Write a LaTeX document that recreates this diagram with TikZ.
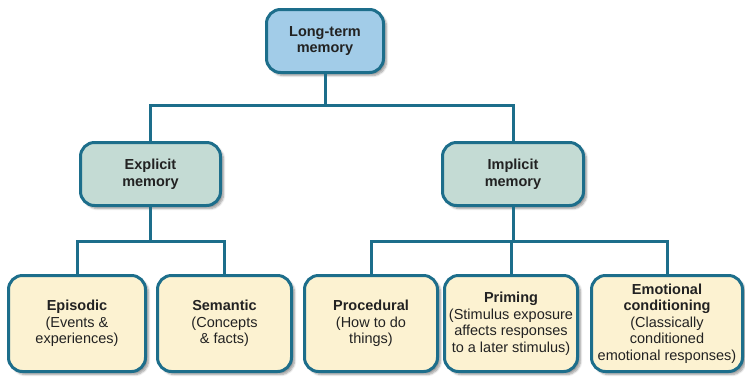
\documentclass[tikz,border=0pt]{standalone}
\usepackage{fontspec}
\setmainfont{Liberation Sans}
\usetikzlibrary{shadows.blur}
\definecolor{edge}{HTML}{1D6E8B}
\definecolor{topfill}{HTML}{A2CCE8}
\definecolor{midfill}{HTML}{C4DBD4}
\definecolor{botfill}{HTML}{FCF2D1}
\definecolor{txt}{HTML}{222222}
\tikzset{
  memnode/.style={draw=edge, line width=3pt, rounded corners=14pt, align=center,
    text=txt, font=\fontsize{14.5}{16.5}\selectfont, inner sep=1pt,
    blur shadow={shadow xshift=3pt, shadow yshift=-3pt, shadow opacity=40, shadow blur steps=6}},
  topbox/.style={memnode, fill=topfill},
  midbox/.style={memnode, fill=midfill, minimum width=140pt, minimum height=63pt},
  botbox/.style={memnode, fill=botfill, minimum height=96pt},
  link/.style={draw=edge, line width=3pt}
}
\begin{document}
\begin{tikzpicture}[x=1pt,y=-1pt]
\useasboundingbox (0,0) rectangle (745,384);
\coordinate (b1) at (325,105);
\coordinate (b2) at (150.5,241);
\coordinate (b3) at (513,241);
\node[topbox, minimum width=117pt, minimum height=63pt] (ltm) at (325,41) {\textbf{Long-term}\\\textbf{memory}};
\node[midbox] (exp) at (150.5,174) {\textbf{Explicit}\\\textbf{memory}};
\node[midbox, minimum width=141pt] (imp) at (513,174) {\textbf{Implicit}\\\textbf{memory}};
\node[botbox, minimum width=137pt] (epi) at (77,323.5) {\textbf{Episodic}\\(Events \&\\experiences)};
\node[botbox, minimum width=134pt] (sem) at (224.5,323.5) {\textbf{Semantic}\\(Concepts\\\& facts)};
\node[botbox, minimum width=133pt] (pro) at (371,323.5) {\textbf{Procedural}\\(How to do\\things)};
\node[botbox, minimum width=133pt] (pri) at (511,323.5) {\textbf{Priming}\\(Stimulus exposure\\affects responses\\to a later stimulus)};
\node[botbox, minimum width=151pt] (emo) at (667,323.5) {\textbf{Emotional}\\\textbf{conditioning}\\(Classically\\conditioned\\emotional responses)};
\draw[link] (ltm.south) -- (b1) -| (exp.north);
\draw[link] (b1) -| (imp.north);
\draw[link] (exp.south) -- (b2) -| (epi.north);
\draw[link] (b2) -| (sem.north);
\draw[link] (imp.south) -- (b3) -| (pro.north);
\draw[link] (b3) -| (pri.north);
\draw[link] (b3) -| (emo.north);
\end{tikzpicture}
\end{document}
